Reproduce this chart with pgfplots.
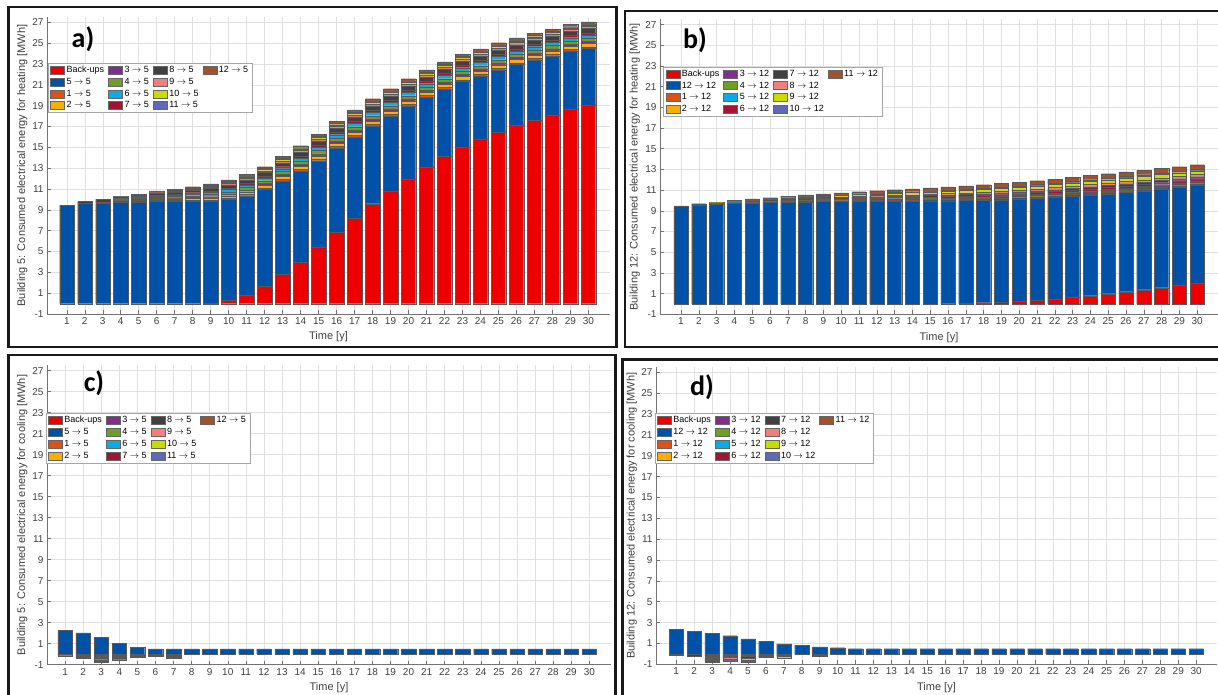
\documentclass[border=0pt]{standalone}
\usepackage{pgfplots}
\pgfplotsset{compat=1.18}
\usepackage{pgfplotstable}
\usepackage{fontspec}
\setmainfont{Liberation Sans}
\newfontfamily\panelfont{Carlito}

\definecolor{cBk}{RGB}{238,0,0}
\definecolor{cMain}{RGB}{0,82,168}
\definecolor{cP1}{RGB}{217,83,25}
\definecolor{cP2}{RGB}{250,175,0}
\definecolor{cP3}{RGB}{126,47,142}
\definecolor{cP4}{RGB}{110,158,38}
\definecolor{cP5}{RGB}{15,170,230}
\definecolor{cP6}{RGB}{162,20,47}
\definecolor{cP7}{RGB}{64,64,64}
\definecolor{cP8}{RGB}{240,128,128}
\definecolor{cP9}{RGB}{200,220,0}
\definecolor{cP10}{RGB}{95,105,185}
\definecolor{cP11}{RGB}{160,82,45}

% Panel a: building 5, heating
\pgfplotstableread{
x bk main p1 p2 p3 p4 p5 p6 p7 p8 p9 p10 p11
1 0 9.45 0 0 0 0 0 0 0 0 0 0 0
2 0 9.64 0 0 0 0 0 0 0.16 0 0 0 0
3 0 9.64 0.05 0 0 0.06 0 0 0.28 0 0 0 0
4 0 9.77 0.03 0.07 0.04 0.07 0.07 0.04 0.09 0.04 0.03 0.02 0.04
5 0 9.77 0.04 0.09 0.06 0.09 0.09 0.06 0.12 0.06 0.04 0.03 0.06
6 0 9.84 0.06 0.12 0.08 0.12 0.12 0.08 0.15 0.08 0.06 0.04 0.08
7 0 9.84 0.07 0.14 0.09 0.14 0.14 0.09 0.19 0.09 0.07 0.05 0.09
8 0 9.84 0.08 0.17 0.11 0.17 0.17 0.11 0.22 0.11 0.08 0.06 0.11
9 0.05 9.79 0.10 0.20 0.13 0.20 0.20 0.13 0.26 0.13 0.10 0.07 0.13
10 0.36 9.67 0.11 0.22 0.15 0.22 0.22 0.15 0.29 0.15 0.11 0.07 0.15
11 0.80 9.57 0.12 0.25 0.16 0.25 0.25 0.16 0.33 0.16 0.12 0.08 0.16
12 1.68 9.31 0.13 0.26 0.17 0.26 0.26 0.17 0.35 0.17 0.13 0.09 0.17
13 2.80 8.99 0.14 0.28 0.19 0.28 0.28 0.19 0.37 0.19 0.14 0.09 0.19
14 4.00 8.74 0.15 0.29 0.19 0.29 0.29 0.19 0.39 0.19 0.15 0.10 0.19
15 5.38 8.35 0.15 0.31 0.20 0.31 0.31 0.20 0.41 0.20 0.15 0.10 0.20
16 6.86 8.09 0.15 0.31 0.20 0.31 0.31 0.20 0.41 0.20 0.15 0.10 0.20
17 8.20 7.80 0.16 0.31 0.21 0.31 0.31 0.21 0.42 0.21 0.16 0.10 0.21
18 9.60 7.46 0.16 0.31 0.21 0.31 0.31 0.21 0.42 0.21 0.16 0.10 0.21
19 10.83 7.19 0.16 0.31 0.21 0.31 0.31 0.21 0.42 0.21 0.16 0.10 0.21
20 11.98 7.00 0.16 0.31 0.21 0.31 0.31 0.21 0.42 0.21 0.16 0.10 0.21
21 13.13 6.69 0.16 0.31 0.21 0.31 0.31 0.21 0.42 0.21 0.16 0.10 0.21
22 14.12 6.48 0.16 0.31 0.21 0.31 0.31 0.21 0.42 0.21 0.16 0.10 0.21
23 15.05 6.30 0.16 0.31 0.21 0.31 0.31 0.21 0.42 0.21 0.16 0.10 0.21
24 15.78 6.08 0.16 0.31 0.21 0.31 0.31 0.21 0.42 0.21 0.16 0.10 0.21
25 16.46 5.98 0.16 0.31 0.21 0.31 0.31 0.21 0.42 0.21 0.16 0.10 0.21
26 17.13 5.85 0.15 0.31 0.20 0.31 0.31 0.20 0.41 0.20 0.15 0.10 0.20
27 17.64 5.76 0.15 0.31 0.20 0.31 0.31 0.20 0.41 0.20 0.15 0.10 0.20
28 18.12 5.69 0.15 0.31 0.20 0.31 0.31 0.20 0.41 0.20 0.15 0.10 0.20
29 18.66 5.60 0.15 0.31 0.20 0.31 0.31 0.20 0.41 0.20 0.15 0.10 0.20
30 19.08 5.44 0.15 0.31 0.20 0.31 0.31 0.20 0.41 0.20 0.15 0.10 0.20
}\tabA

% Panel b: building 12, heating
\pgfplotstableread{
x bk main p1 p2 p3 p4 p5 p6 p7 p8 p9 p10 p11
1 0 9.44 0 0 0 0 0 0 0.02 0 0 0 0.02
2 0 9.59 0 0 0 0.01 0.01 0.01 0.01 0.01 0.02 0.01 0.03
3 0 9.66 0.01 0 0.01 0.01 0.01 0.02 0.02 0.02 0.03 0.01 0.04
4 0 9.72 0.01 0.01 0.01 0.02 0.02 0.03 0.03 0.04 0.05 0.02 0.07
5 0 9.74 0.02 0.01 0.02 0.02 0.02 0.04 0.04 0.05 0.07 0.03 0.09
6 0 9.80 0.02 0.01 0.02 0.02 0.02 0.05 0.05 0.06 0.08 0.04 0.11
7 0 9.82 0.02 0.02 0.02 0.03 0.03 0.06 0.06 0.07 0.10 0.05 0.13
8 0 9.87 0.03 0.02 0.03 0.03 0.03 0.07 0.07 0.08 0.11 0.05 0.15
9 0 9.90 0.03 0.02 0.03 0.04 0.04 0.07 0.07 0.09 0.13 0.06 0.16
10 0 9.93 0.03 0.02 0.03 0.04 0.04 0.08 0.08 0.10 0.14 0.06 0.18
11 0 9.93 0.04 0.03 0.04 0.05 0.05 0.09 0.09 0.11 0.16 0.07 0.20
12 0 9.95 0.04 0.03 0.04 0.05 0.05 0.10 0.10 0.12 0.17 0.08 0.22
13 0 9.95 0.04 0.03 0.04 0.06 0.06 0.11 0.11 0.13 0.19 0.09 0.24
14 0 9.94 0.05 0.03 0.05 0.06 0.06 0.12 0.12 0.14 0.20 0.09 0.26
15 0 9.98 0.05 0.04 0.05 0.06 0.06 0.12 0.12 0.15 0.21 0.10 0.27
16 0.02 9.96 0.05 0.04 0.05 0.07 0.07 0.13 0.13 0.16 0.23 0.11 0.29
17 0.05 9.95 0.06 0.04 0.06 0.07 0.07 0.14 0.14 0.17 0.24 0.11 0.31
18 0.13 9.92 0.06 0.04 0.06 0.07 0.07 0.15 0.15 0.18 0.25 0.12 0.33
19 0.20 9.88 0.06 0.05 0.06 0.08 0.08 0.16 0.16 0.19 0.27 0.13 0.35
20 0.30 9.87 0.06 0.05 0.06 0.08 0.08 0.16 0.16 0.19 0.27 0.13 0.35
21 0.40 9.85 0.07 0.05 0.07 0.08 0.08 0.17 0.17 0.20 0.28 0.13 0.37
22 0.50 9.84 0.07 0.05 0.07 0.09 0.09 0.17 0.17 0.20 0.29 0.14 0.37
23 0.65 9.82 0.07 0.05 0.07 0.09 0.09 0.18 0.18 0.21 0.30 0.14 0.39
24 0.80 9.74 0.08 0.06 0.08 0.09 0.09 0.19 0.19 0.23 0.32 0.15 0.42
25 1.00 9.66 0.08 0.06 0.08 0.10 0.10 0.19 0.19 0.23 0.33 0.15 0.42
26 1.19 9.59 0.08 0.06 0.08 0.10 0.10 0.20 0.20 0.24 0.33 0.16 0.43
27 1.38 9.56 0.08 0.06 0.08 0.10 0.10 0.20 0.20 0.24 0.33 0.16 0.43
28 1.58 9.53 0.08 0.06 0.08 0.10 0.10 0.20 0.20 0.24 0.34 0.16 0.44
29 1.84 9.45 0.08 0.06 0.08 0.10 0.10 0.20 0.20 0.24 0.33 0.16 0.43
30 2.03 9.45 0.08 0.06 0.08 0.10 0.10 0.20 0.20 0.24 0.33 0.16 0.43
}\tabB

% Panel c: building 5, cooling (negative parts are stacked below zero)
\pgfplotstableread{
x main p1 p2 p3 p4 p5 p6 p7 p8 p9 p10 p11
1 2.29 0 0 0 0 0 0 -0.15 0 0 0 0
2 2.03 -0.10 0 0 -0.12 -0.08 0 -0.07 0 0 0 0
3 1.59 -0.12 -0.10 -0.08 -0.12 -0.12 -0.10 -0.07 -0.08 0 0 0
4 1.01 -0.08 -0.10 0 -0.10 0 -0.10 -0.15 0 0 0 0
5 0.65 -0.08 -0.08 0 -0.05 0 0 -0.10 0 0 0 0
6 0.50 -0.06 -0.06 0 -0.06 0 0 0 0 0 0 0
7 0.50 -0.07 -0.12 0 -0.08 -0.10 0 0 0 0 0 0
8 0.50 0 0 0 0 0 0 0 0 0 0 0
9 0.50 0 0 0 0 0 0 0 0 0 0 0
10 0.50 0 0 0 0 0 0 0 0 0 0 0
11 0.50 0 0 0 0 0 0 0 0 0 0 0
12 0.50 0 0 0 0 0 0 0 0 0 0 0
13 0.50 0 0 0 0 0 0 0 0 0 0 0
14 0.50 0 0 0 0 0 0 0 0 0 0 0
15 0.50 0 0 0 0 0 0 0 0 0 0 0
16 0.50 0 0 0 0 0 0 0 0 0 0 0
17 0.50 0 0 0 0 0 0 0 0 0 0 0
18 0.50 0 0 0 0 0 0 0 0 0 0 0
19 0.50 0 0 0 0 0 0 0 0 0 0 0
20 0.50 0 0 0 0 0 0 0 0 0 0 0
21 0.50 0 0 0 0 0 0 0 0 0 0 0
22 0.50 0 0 0 0 0 0 0 0 0 0 0
23 0.50 0 0 0 0 0 0 0 0 0 0 0
24 0.50 0 0 0 0 0 0 0 0 0 0 0
25 0.50 0 0 0 0 0 0 0 0 0 0 0
26 0.50 0 0 0 0 0 0 0 0 0 0 0
27 0.50 0 0 0 0 0 0 0 0 0 0 0
28 0.50 0 0 0 0 0 0 0 0 0 0 0
29 0.50 0 0 0 0 0 0 0 0 0 0 0
30 0.50 0 0 0 0 0 0 0 0 0 0 0
}\tabC

% Panel d: building 12, cooling
\pgfplotstableread{
x main p1 p2 p3 p4 p5 p6 p7 p8 p9 p10 p11
1 2.36 0 0 0 0 0 0 -0.12 0 0 0 0
2 2.16 0 0 0 0 0 0 -0.18 0 0 0 0
3 1.97 -0.10 -0.10 -0.08 -0.10 -0.12 -0.12 -0.10 -0.10 0 0 0
4 1.74 0 0 0 0 -0.08 -0.12 -0.15 -0.16 0 -0.15 0
5 1.45 0 -0.15 0 0 -0.10 0 -0.14 0 -0.20 0 -0.20
6 1.20 -0.10 0 0 0 0 -0.12 -0.12 0 0 0 0
7 0.97 0 0 0 -0.10 0 0 -0.15 0 -0.15 0 0
8 0.82 0 0 0 0 0 0 -0.05 0 0 0 0
9 0.68 0 0 0 -0.08 0 0 -0.08 0 -0.08 0 0
10 0.59 0 0 0 0 0 0 -0.03 0 0 0 0
11 0.50 0 0 0 0 0 0 0 0 0 0 0
12 0.50 0 0 0 0 0 0 0 0 0 0 0
13 0.50 0 0 0 0 0 0 0 0 0 0 0
14 0.50 0 0 0 0 0 0 0 0 0 0 0
15 0.50 0 0 0 0 0 0 0 0 0 0 0
16 0.50 0 0 0 0 0 0 0 0 0 0 0
17 0.50 0 0 0 0 0 0 0 0 0 0 0
18 0.50 0 0 0 0 0 0 0 0 0 0 0
19 0.50 0 0 0 0 0 0 0 0 0 0 0
20 0.50 0 0 0 0 0 0 0 0 0 0 0
21 0.50 0 0 0 0 0 0 0 0 0 0 0
22 0.50 0 0 0 0 0 0 0 0 0 0 0
23 0.50 0 0 0 0 0 0 0 0 0 0 0
24 0.50 0 0 0 0 0 0 0 0 0 0 0
25 0.50 0 0 0 0 0 0 0 0 0 0 0
26 0.50 0 0 0 0 0 0 0 0 0 0 0
27 0.50 0 0 0 0 0 0 0 0 0 0 0
28 0.50 0 0 0 0 0 0 0 0 0 0 0
29 0.50 0 0 0 0 0 0 0 0 0 0 0
30 0.50 0 0 0 0 0 0 0 0 0 0 0
}\tabD

\pgfplotsset{
  panel/.style={
    scale only axis, anchor=north west,
    xmin=-0.1, xmax=31.2, ymin=-1, ymax=27.5,
    xtick={1,...,30}, ytick={-1,1,...,27},
    axis x line=bottom, axis y line=left,
    axis line style={-, black!55, line width=0.6pt},
    tick align=inside, major tick length=4pt,
    tick style={black!55, line width=0.5pt},
    grid=major, major grid style={black!12, line width=0.5pt},
    ybar stacked, bar width=0.8,
    every axis plot/.append style={draw=black!65, line width=0.12pt},
    /pgf/number format/assume math mode=true,
    tick label style={font=\fontsize{10}{12}\selectfont, text=black!75},
    label style={font=\fontsize{11}{13}\selectfont, text=black!75},
    xlabel={Time [y]},
    xlabel style={at={(axis description cs:0.5,-0.078)}, anchor=center},
    legend columns=4, legend cell align=left,
    legend image code/.code={\draw[#1, draw=black!60, line width=0.4pt] (0pt,-4pt) rectangle (14pt,4pt);},
    legend style={font=\fontsize{9}{10}\selectfont, draw=black!35, fill=white,
      inner xsep=2pt, inner ysep=1pt, anchor=north west,
      /tikz/every even column/.append style={column sep=2pt}},
  }
}

\newcommand\plotHeat[1]{%
  \addplot[fill=cBk, forget plot] table[x=x,y=bk]{#1};
  \addplot[fill=cMain, forget plot] table[x=x,y=main]{#1};
  \addplot[fill=cP1, forget plot] table[x=x,y=p1]{#1};
  \addplot[fill=cP2, forget plot] table[x=x,y=p2]{#1};
  \addplot[fill=cP3, forget plot] table[x=x,y=p3]{#1};
  \addplot[fill=cP4, forget plot] table[x=x,y=p4]{#1};
  \addplot[fill=cP5, forget plot] table[x=x,y=p5]{#1};
  \addplot[fill=cP6, forget plot] table[x=x,y=p6]{#1};
  \addplot[fill=cP7, forget plot] table[x=x,y=p7]{#1};
  \addplot[fill=cP8, forget plot] table[x=x,y=p8]{#1};
  \addplot[fill=cP9, forget plot] table[x=x,y=p9]{#1};
  \addplot[fill=cP10, forget plot] table[x=x,y=p10]{#1};
  \addplot[fill=cP11, forget plot] table[x=x,y=p11]{#1};
}
\newcommand\plotCool[1]{%
  \addplot[fill=cMain, forget plot] table[x=x,y=main]{#1};
  \addplot[fill=cP1, forget plot] table[x=x,y=p1]{#1};
  \addplot[fill=cP2, forget plot] table[x=x,y=p2]{#1};
  \addplot[fill=cP3, forget plot] table[x=x,y=p3]{#1};
  \addplot[fill=cP4, forget plot] table[x=x,y=p4]{#1};
  \addplot[fill=cP5, forget plot] table[x=x,y=p5]{#1};
  \addplot[fill=cP6, forget plot] table[x=x,y=p6]{#1};
  \addplot[fill=cP7, forget plot] table[x=x,y=p7]{#1};
  \addplot[fill=cP8, forget plot] table[x=x,y=p8]{#1};
  \addplot[fill=cP9, forget plot] table[x=x,y=p9]{#1};
  \addplot[fill=cP10, forget plot] table[x=x,y=p10]{#1};
  \addplot[fill=cP11, forget plot] table[x=x,y=p11]{#1};
}
\newcommand\legFive{%
  \addlegendimage{fill=cBk}\addlegendentry{Back-ups}
  \addlegendimage{fill=cP3}\addlegendentry{3 $\rightarrow$ 5}
  \addlegendimage{fill=cP7}\addlegendentry{8 $\rightarrow$ 5}
  \addlegendimage{fill=cP11}\addlegendentry{12 $\rightarrow$ 5}
  \addlegendimage{fill=cMain}\addlegendentry{5 $\rightarrow$ 5}
  \addlegendimage{fill=cP4}\addlegendentry{4 $\rightarrow$ 5}
  \addlegendimage{fill=cP8}\addlegendentry{9 $\rightarrow$ 5}
  \addlegendimage{empty legend}\addlegendentry{}
  \addlegendimage{fill=cP1}\addlegendentry{1 $\rightarrow$ 5}
  \addlegendimage{fill=cP5}\addlegendentry{6 $\rightarrow$ 5}
  \addlegendimage{fill=cP9}\addlegendentry{10 $\rightarrow$ 5}
  \addlegendimage{empty legend}\addlegendentry{}
  \addlegendimage{fill=cP2}\addlegendentry{2 $\rightarrow$ 5}
  \addlegendimage{fill=cP6}\addlegendentry{7 $\rightarrow$ 5}
  \addlegendimage{fill=cP10}\addlegendentry{11 $\rightarrow$ 5}
}
\newcommand\legTwelve{%
  \addlegendimage{fill=cBk}\addlegendentry{Back-ups}
  \addlegendimage{fill=cP3}\addlegendentry{3 $\rightarrow$ 12}
  \addlegendimage{fill=cP7}\addlegendentry{7 $\rightarrow$ 12}
  \addlegendimage{fill=cP11}\addlegendentry{11 $\rightarrow$ 12}
  \addlegendimage{fill=cMain}\addlegendentry{12 $\rightarrow$ 12}
  \addlegendimage{fill=cP4}\addlegendentry{4 $\rightarrow$ 12}
  \addlegendimage{fill=cP8}\addlegendentry{8 $\rightarrow$ 12}
  \addlegendimage{empty legend}\addlegendentry{}
  \addlegendimage{fill=cP1}\addlegendentry{1 $\rightarrow$ 12}
  \addlegendimage{fill=cP5}\addlegendentry{5 $\rightarrow$ 12}
  \addlegendimage{fill=cP9}\addlegendentry{9 $\rightarrow$ 12}
  \addlegendimage{empty legend}\addlegendentry{}
  \addlegendimage{fill=cP2}\addlegendentry{2 $\rightarrow$ 12}
  \addlegendimage{fill=cP6}\addlegendentry{6 $\rightarrow$ 12}
  \addlegendimage{fill=cP10}\addlegendentry{10 $\rightarrow$ 12}
}

\begin{document}
\begin{tikzpicture}
\fill[white] (0pt,0pt) rectangle (1218pt,-695pt);
\useasboundingbox (0pt,0pt) rectangle (1218pt,-695pt);

% a)
\begin{axis}[panel, at={(47pt,-17.2pt)}, width=563pt, height=296.8pt,
  ylabel={Building 5: Consumed electrical energy for heating [MWh]},
  ylabel style={at={(axis description cs:-0.044,0.5)}, anchor=center},
  legend style={at={(rel axis cs:0.002,0.846)}}]
\plotHeat{\tabA}
\legFive
\end{axis}

% b)
\begin{axis}[panel, at={(660pt,-19.4pt)}, width=558pt, height=294.9pt,
  xmin=-0.18, xmax=31.17,
  ylabel={Building 12: Consumed electrical energy for heating [MWh]},
  ylabel style={at={(axis description cs:-0.045,0.5)}, anchor=center},
  legend style={at={(rel axis cs:0.006,0.84)}}]
\plotHeat{\tabB}
\legTwelve
\end{axis}

% c)
\begin{axis}[panel, at={(47pt,-365.4pt)}, width=564pt, height=299.2pt,
  xmin=0, xmax=31.2,
  ylabel={Building 5: Consumed electrical energy for cooling [MWh]},
  ylabel style={at={(axis description cs:-0.044,0.5)}, anchor=center},
  legend style={at={(rel axis cs:-0.002,0.84)}}]
\plotCool{\tabC}
\legFive
\end{axis}

% d)
\begin{axis}[panel, at={(656pt,-367.1pt)}, width=561pt, height=297.2pt,
  xmin=-0.13, xmax=31.16,
  ylabel={Building 12: Consumed electrical energy for cooling [MWh]},
  ylabel style={at={(axis description cs:-0.043,0.5)}, anchor=center},
  legend style={at={(rel axis cs:-0.002,0.845)}}]
\plotCool{\tabD}
\legTwelve
\end{axis}

% panel frames
\draw[line width=2.6pt, black!90] (8.3pt,-7pt) rectangle (616.5pt,-347pt);
\draw[line width=2.6pt, black!90] (625pt,-11pt) rectangle (1225pt,-347pt);
\draw[line width=2.6pt, black!90] (8.3pt,-355pt) rectangle (615.5pt,-705pt);
\draw[line width=2.6pt, black!90] (622.7pt,-359.3pt) rectangle (1225pt,-705pt);

% panel letters
\node[font=\panelfont\bfseries\fontsize{28}{30}\selectfont] at (83pt,-39pt) {a)};
\node[font=\panelfont\bfseries\fontsize{28}{30}\selectfont] at (695pt,-40pt) {b)};
\node[font=\panelfont\bfseries\fontsize{28}{30}\selectfont] at (94pt,-383pt) {c)};
\node[font=\panelfont\bfseries\fontsize{28}{30}\selectfont] at (702pt,-387pt) {d)};
\end{tikzpicture}
\end{document}
